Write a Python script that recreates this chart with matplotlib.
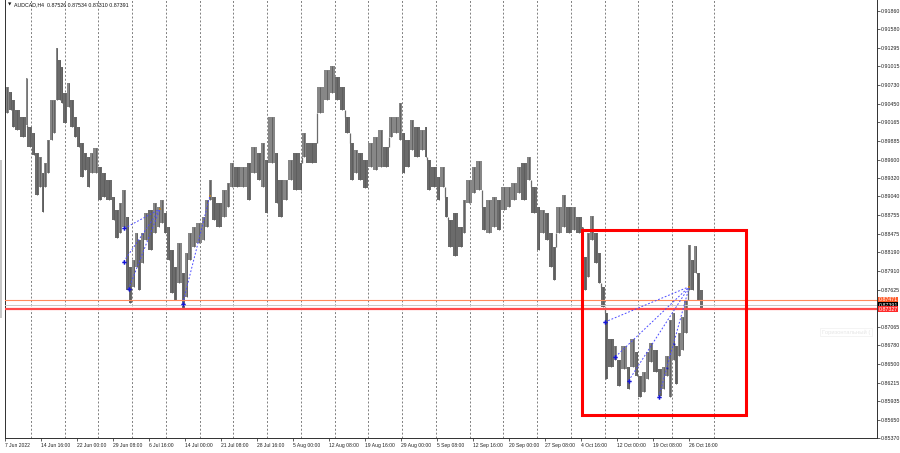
import matplotlib
matplotlib.use("Agg")
import matplotlib.pyplot as plt
from matplotlib.patches import Rectangle
from matplotlib.transforms import blended_transform_factory

plt.rcParams['font.family'] = ['Liberation Sans', 'DejaVu Sans']
plt.rcParams['lines.scale_dashes'] = False

# AUDCAD H4, price bars grouped in short runs: first bar of each run, run high, run low
bar_start = [0, 4, 6, 9, 13, 19, 20, 24, 27, 30, 33, 35, 37, 40, 43, 45, 47, 50, 52, 55,
             58, 61, 64, 67, 70, 73, 76, 78, 83, 86, 90, 95, 98, 101, 104, 108, 110, 113, 116, 118,
             121, 124, 127, 132, 135, 138, 141, 144, 147, 150, 153, 157, 160, 163, 166, 170, 175, 178, 181, 184,
             188, 193, 197, 200, 204, 209, 215, 219, 224, 228, 231, 234, 240, 243, 247, 252, 256, 262, 264, 268,
             277, 284, 289, 293, 298, 302, 307, 310, 314, 318, 323, 327, 332, 336, 341, 345, 350, 353, 356, 360,
             364, 369, 373, 375, 379, 384, 387, 391, 394, 398, 403, 407, 410, 415, 419, 424, 428, 433, 437, 441,
             446, 450, 455, 459, 464, 468, 473, 476, 480, 484, 487, 490, 495, 499, 504, 508, 513, 514, 517, 520,
             524, 527, 530, 533, 536, 541, 544, 548, 553, 556, 560, 563, 566, 570, 573, 576, 581, 584, 587, 590,
             593, 596, 598, 601, 604, 607, 610, 613, 615, 618]
last_bar = 621

bar_high = [0.90703, 0.90627, 0.90506, 0.90354, 0.90248, 0.90840, 0.90097, 0.90006, 0.89702, 0.89642,
            0.89399, 0.89551, 0.89900, 0.90506, 0.90506, 0.91294, 0.91112, 0.91006, 0.90612, 0.90764,
            0.90506, 0.90248, 0.90097, 0.89854, 0.89702, 0.89642, 0.89702, 0.89778, 0.89490, 0.89399,
            0.89293, 0.89036, 0.88838, 0.88945, 0.89142, 0.88732, 0.87974, 0.88080, 0.88490, 0.88384,
            0.88490, 0.88793, 0.88838, 0.88945, 0.88884, 0.88990, 0.88793, 0.88581, 0.88232, 0.87974,
            0.88338, 0.87883, 0.88187, 0.88490, 0.88581, 0.88641, 0.88732, 0.88990, 0.89293, 0.89036,
            0.88945, 0.89142, 0.89248, 0.89551, 0.89490, 0.89490, 0.89551, 0.89793, 0.89702, 0.89854,
            0.89596, 0.90248, 0.89702, 0.89293, 0.89293, 0.89596, 0.89702, 0.89551, 0.90006, 0.89854,
            0.90703, 0.90961, 0.91021, 0.90855, 0.90703, 0.90248, 0.89854, 0.89748, 0.89702, 0.89596,
            0.89854, 0.89945, 0.90051, 0.89793, 0.90248, 0.90248, 0.90460, 0.90006, 0.89900, 0.90203,
            0.90097, 0.90051, 0.90097, 0.89596, 0.89490, 0.89339, 0.89490, 0.89036, 0.88687, 0.88793,
            0.88581, 0.88990, 0.89293, 0.89490, 0.89581, 0.88884, 0.88990, 0.89036, 0.88990, 0.89187,
            0.89187, 0.89248, 0.89490, 0.89551, 0.89642, 0.89187, 0.88884, 0.88838, 0.88793, 0.88490,
            0.88278, 0.88884, 0.89066, 0.88884, 0.88884, 0.88732, 0.88581, 0.88126, 0.88490, 0.88747,
            0.88490, 0.88187, 0.87671, 0.87277, 0.86868, 0.86762, 0.86564, 0.86762, 0.86458, 0.86868,
            0.86671, 0.86307, 0.86367, 0.86671, 0.86822, 0.86716, 0.86413, 0.86458, 0.86610, 0.87171,
            0.87277, 0.86762, 0.86974, 0.87216, 0.87474, 0.88308, 0.88080, 0.88293, 0.87883, 0.87626]

bar_low = [0.90309, 0.90354, 0.90097, 0.90051, 0.89945, 0.90127, 0.89793, 0.89672, 0.89066, 0.89187,
           0.88808, 0.89187, 0.89399, 0.89900, 0.90006, 0.90506, 0.90506, 0.90460, 0.90157, 0.90400,
           0.90097, 0.89945, 0.89793, 0.89339, 0.89445, 0.89187, 0.89399, 0.89399, 0.88990, 0.89036,
           0.88990, 0.88687, 0.88414, 0.88490, 0.88581, 0.87626, 0.87429, 0.87671, 0.87974, 0.87626,
           0.88035, 0.88384, 0.88232, 0.88490, 0.88581, 0.88641, 0.88490, 0.88080, 0.87580, 0.87474,
           0.87732, 0.87353, 0.87520, 0.88080, 0.88278, 0.88338, 0.88384, 0.88581, 0.88990, 0.88687,
           0.88581, 0.88732, 0.88884, 0.89187, 0.89187, 0.89187, 0.88990, 0.89399, 0.89293, 0.89187,
           0.88793, 0.89551, 0.88945, 0.88732, 0.88990, 0.89293, 0.89142, 0.89142, 0.89642, 0.89551,
           0.90309, 0.90506, 0.90612, 0.90506, 0.90354, 0.90006, 0.89293, 0.89399, 0.89293, 0.89172,
           0.89490, 0.89445, 0.89490, 0.89490, 0.89945, 0.90006, 0.89900, 0.89399, 0.89490, 0.89748,
           0.89642, 0.89748, 0.89642, 0.89142, 0.89187, 0.88990, 0.89187, 0.88732, 0.88278, 0.88141,
           0.88278, 0.88490, 0.88945, 0.89096, 0.89142, 0.88535, 0.88490, 0.88581, 0.88535, 0.88838,
           0.88884, 0.88990, 0.89096, 0.88990, 0.89293, 0.88793, 0.88232, 0.88490, 0.88384, 0.87974,
           0.87777, 0.88490, 0.88581, 0.88490, 0.88535, 0.88490, 0.87883, 0.87626, 0.87823, 0.88384,
           0.88035, 0.87732, 0.87368, 0.86261, 0.86458, 0.86564, 0.86155, 0.86413, 0.86110, 0.86458,
           0.86307, 0.85988, 0.86064, 0.86261, 0.86519, 0.86367, 0.86004, 0.86110, 0.86307, 0.85988,
           0.86564, 0.86185, 0.86610, 0.86716, 0.86974, 0.87626, 0.87626, 0.87883, 0.87474, 0.87322]

title_text = "AUDCAD,H4  0.87526 0.87534 0.87310 0.87391"

x_tick_labels = ["7 Jun 2022", "14 Jun 16:00", "22 Jun 00:00", "29 Jun 08:00", "6 Jul 16:00",
                 "14 Jul 00:00", "21 Jul 08:00", "28 Jul 16:00", "5 Aug 00:00", "12 Aug 08:00",
                 "19 Aug 16:00", "29 Aug 00:00", "5 Sep 08:00", "12 Sep 16:00", "20 Sep 00:00",
                 "27 Sep 08:00", "4 Oct 16:00", "12 Oct 00:00", "19 Oct 08:00", "26 Oct 16:00"]
x_tick_bars = [32 * i for i in range(len(x_tick_labels))]
grid_bars = [23 + 30 * i for i in range(20)] + [630]

y_ticks = [0.91860, 0.91580, 0.91295, 0.91015, 0.90730, 0.90450, 0.90165, 0.89885, 0.89600,
           0.89320, 0.89040, 0.88755, 0.88475, 0.88190, 0.87910, 0.87625, 0.87065, 0.86780,
           0.86500, 0.86215, 0.85935, 0.85650, 0.85370]

# horizontal levels: price, line colour, line width, tag colour
levels = [(0.87471, '#ff8a5c', 0.8, '#ff5a28'),
          (0.87391, '#c8c8c8', 0.7, '#000000'),
          (0.87327, '#ff4a4a', 1.6, '#ff2a2a')]

# trend fans (bar, price)
fan_left_apex = (137.8, 0.88849)
fan_left_from = [(106.2, 0.88555), (105.5, 0.88050), (109.8, 0.87633)]
line2_from = (158.0, 0.87413)
line2_to = (182.2, 0.89051)
fan_right_apex = (608.4, 0.87671)
fan_right_from = [(533.3, 0.87133), (542.7, 0.86605), (554.4, 0.86241), (581.3, 0.85999)]
fan_right_dots = [(588.7, 0.86439), (594.7, 0.86799)]

box_bars = (512.6, 658.4)
box_prices = (0.85720, 0.88535)

fig = plt.figure(figsize=(9, 4.53), dpi=100)
fig.patch.set_facecolor('white')
ax = fig.add_axes([5 / 900, (453 - 438.3) / 453, (876.7 - 5) / 900, 438.3 / 453])
ax.set_xlim(0, 775)
ax.set_ylim(0.85368, 0.92022)

for g in grid_bars:
    ax.axvline(g, color='#6a6a6a', lw=0.6, ls=(0, (1.4, 1.4)), zorder=0)

widths = [bar_start[i + 1] - bar_start[i] for i in range(len(bar_start) - 1)]
widths.append(last_bar - bar_start[-1])
heights = [h - l for h, l in zip(bar_high, bar_low)]
colors = []
prev = None
for h, l in zip(bar_high, bar_low):
    mid = (h + l) / 2
    colors.append('#878787' if prev is None or mid >= prev else '#6b6b6b')
    prev = mid
ax.bar(bar_start, heights, width=widths, bottom=bar_low, align='edge',
       color=colors, linewidth=0, zorder=2)

# price moves continuously between runs: bridge any gap at the run boundary
for i in range(1, len(bar_start)):
    top = min(bar_high[i - 1], bar_high[i])
    bot = max(bar_low[i - 1], bar_low[i])
    if bot > top:
        ax.vlines(bar_start[i], top, bot, color='#6b6b6b', lw=0.9, zorder=2)
    mid_x = bar_start[i - 1] + widths[i - 1] / 2
    ax.vlines(mid_x, bar_low[i - 1], bar_high[i - 1], color='#5c5c5c', lw=0.6, zorder=2)

for price, lc, lw, tc in levels:
    ax.axhline(price, color=lc, lw=lw, zorder=3)

fan_kw = dict(color='#4a4aff', lw=0.7, ls=(0, (1.3, 1.3)), zorder=4)
for x0, y0 in fan_left_from:
    ax.plot([x0, fan_left_apex[0]], [y0, fan_left_apex[1]], **fan_kw)
ax.plot([line2_from[0], line2_to[0]], [line2_from[1], line2_to[1]], **fan_kw)
for x0, y0 in fan_right_from:
    ax.plot([x0, fan_right_apex[0]], [y0, fan_right_apex[1]], **fan_kw)

mk_x = [p[0] for p in fan_left_from + [line2_from] + fan_right_from]
mk_y = [p[1] for p in fan_left_from + [line2_from] + fan_right_from]
ax.plot(mk_x, mk_y, ls='none', marker='P', ms=3.2, color='#1414d8', mew=0, zorder=5)
ax.plot([p[0] for p in fan_right_dots], [p[1] for p in fan_right_dots], ls='none',
        marker='s', ms=1.3, color='#2020a0', mew=0, zorder=5)
ax.plot([fan_left_apex[0], line2_to[0], fan_right_apex[0]],
        [fan_left_apex[1], line2_to[1], fan_right_apex[1]], ls='none',
        marker='s', ms=1.6, color='#b08030', mew=0, zorder=5)

ax.add_patch(Rectangle((box_bars[0], box_prices[0]), box_bars[1] - box_bars[0],
                       box_prices[1] - box_prices[0], fill=False, ec='#ff0000', lw=2.2, zorder=6))

# axes styling like the terminal
ax.spines['top'].set_visible(False)
for s in ['left', 'right', 'bottom']:
    ax.spines[s].set_color('#303030')
    ax.spines[s].set_linewidth(0.7)
ax.yaxis.tick_right()
ax.set_yticks(y_ticks)
ax.set_yticklabels(['%.5f' % v for v in y_ticks])
ax.set_xticks(x_tick_bars)
ax.set_xticklabels(x_tick_labels, ha='left')
ax.tick_params(axis='y', length=2, width=0.5, pad=1.2, labelsize=3.8, colors='#202020')
ax.tick_params(axis='x', length=2, width=0.5, pad=1.5, labelsize=3.6, colors='#202020')

tr = blended_transform_factory(ax.transAxes, ax.transData)
for price, lc, lw, tc in levels:
    ax.text(1.002, price, '%.5f' % price, transform=tr, fontsize=3.8, color='white',
            va='center', ha='left', clip_on=False, zorder=10,
            bbox=dict(boxstyle='square,pad=0.12', fc=tc, ec='none'))

ax.text(1.0 - 55 / 871.7, 0.86980, 'Горизонтальный (', transform=tr, fontsize=4.2,
        color='#e6e6e6', va='center', ha='left', zorder=1,
        bbox=dict(boxstyle='square,pad=0.3', fc='white', ec='#f0f0f0', lw=0.5))

fig.text(8 / 900, 1 - 4.6 / 453, '▼', fontsize=3.2, color='#101010', va='center', ha='left',
         family='DejaVu Sans')
fig.text(14.3 / 900, 1 - 4.6 / 453, title_text, fontsize=3.8, color='#101010',
         va='center', ha='left')

fig.patches.append(Rectangle((0, (453 - 318) / 453), 1.7 / 900, 158 / 453,
                             transform=fig.transFigure, fc='#c8c8c8', ec='none'))

fig.savefig('out.png', dpi=100, facecolor='white')
